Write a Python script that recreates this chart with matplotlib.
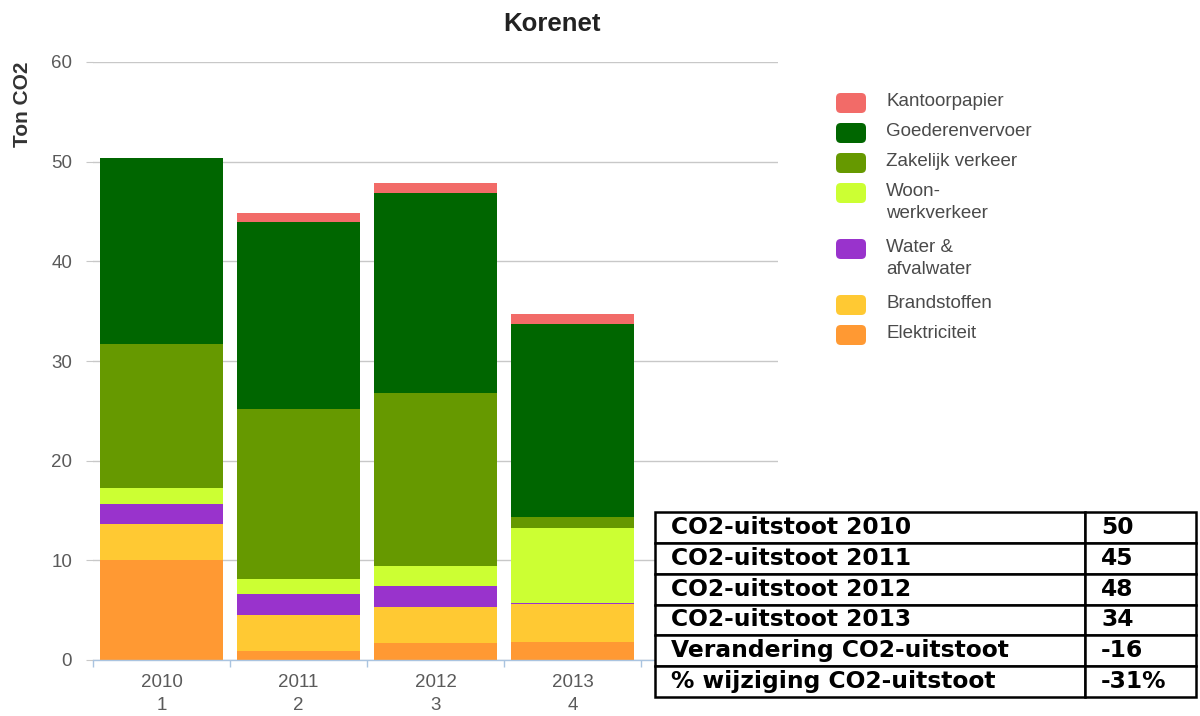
import matplotlib
matplotlib.use("Agg")
import matplotlib.pyplot as plt
from matplotlib.patches import FancyBboxPatch
import numpy as np

# ---------------- data ----------------
years = ["2010", "2011", "2012", "2013"]
index_labels = ["1", "2", "3", "4"]

# stack order bottom -> top
series_names = ["Elektriciteit", "Brandstoffen", "Water &\nafvalwater",
                "Woon-\nwerkverkeer", "Zakelijk verkeer", "Goederenvervoer",
                "Kantoorpapier"]
elektriciteit = [10.0, 0.9, 1.7, 1.85]
brandstoffen = [3.6, 3.6, 3.6, 3.75]
water = [2.1, 2.1, 2.1, 0.12]
woonwerk = [1.6, 1.55, 2.05, 7.5]
zakelijk = [14.45, 17.05, 17.3, 1.1]
goederen = [18.6, 18.7, 20.1, 19.4]
kantoor = [0.0, 0.9, 1.0, 0.95]
series_values = [elektriciteit, brandstoffen, water, woonwerk, zakelijk, goederen, kantoor]
series_colors = ["#ff9933", "#ffc933", "#9933cc", "#ccff33", "#669900", "#006600", "#f26b68"]

table_labels = ["CO2-uitstoot 2010", "CO2-uitstoot 2011", "CO2-uitstoot 2012",
                "CO2-uitstoot 2013", "Verandering CO2-uitstoot", "% wijziging CO2-uitstoot"]
table_values = ["50", "45", "48", "34", "-16", "-31%"]

y_ticks = [0, 10, 20, 30, 40, 50, 60]

# ---------------- figure ----------------
W, H = 1200, 716
fig = plt.figure(figsize=(W / 100, H / 100), dpi=100)
fig.patch.set_facecolor("white")

def fx(px):
    return px / W

def fy(py):
    return 1 - py / H

ax = fig.add_axes([fx(93), fy(660), fx(778) - fx(93), fy(62) - fy(660)])
x = np.arange(len(years))
bottom = np.zeros(len(years))
for vals, col in zip(series_values, series_colors):
    ax.bar(x, vals, bottom=bottom, width=0.9, color=col, linewidth=0, zorder=2)
    bottom += np.array(vals)

ax.set_xlim(-0.5, 4.5)
ax.set_ylim(0, 60)
ax.set_yticks(y_ticks)
ax.set_yticklabels([str(v) for v in y_ticks], fontsize=13.5, color="#5a5a5a",
                   family="Liberation Sans")
ax.yaxis.grid(True, color="#c8c8c8", linewidth=1, zorder=0)
ax.tick_params(axis="y", length=5, color="#c8c8c8", pad=10)
ax.set_xticks(x)
ax.set_xticklabels([f"{a}\n{b}" for a, b in zip(years, index_labels)],
                   fontsize=13.5, color="#5a5a5a", family="Liberation Sans",
                   linespacing=1.45)
ax.tick_params(axis="x", length=0, pad=10)
# minor ticks at band edges
ax.set_xticks(np.arange(-0.5, 5.0, 1.0), minor=True)
ax.tick_params(axis="x", which="minor", length=5, color="#aac4e0", width=1)
for s in ["top", "right", "left"]:
    ax.spines[s].set_visible(False)
ax.spines["bottom"].set_color("#aac4e0")
ax.spines["bottom"].set_linewidth(1)

# title and y label
fig.text(fx(552), fy(24), "Korenet", ha="center", va="center", fontsize=18.5,
         fontweight="bold", family="Liberation Sans", color="#222222")
fig.text(fx(22), fy(104), "Ton CO2", ha="center", va="center", rotation=90,
         fontsize=15, fontweight="bold", family="Liberation Sans", color="#333333")

# legend (top entry = top of stack)
ycur = 103
for name, col in zip(series_names[::-1], series_colors[::-1]):
    patch = FancyBboxPatch((fx(836), fy(ycur + 10)), fx(30), 20 / H,
                           boxstyle="round,pad=0,rounding_size=0.004",
                           transform=fig.transFigure, facecolor=col,
                           edgecolor="none", mutation_aspect=W / H)
    fig.patches.append(patch)
    fig.text(fx(886), fy(ycur - 10.5), name, ha="left", va="top", fontsize=13.5,
             family="Liberation Sans", color="#4a4a4a", linespacing=1.42)
    nlines = name.count("\n") + 1
    ycur += 30 + 26 * (nlines - 1)

# table
tax = fig.add_axes([fx(655), fy(697), fx(1196) - fx(655), fy(512) - fy(697)])
tax.set_axis_off()
tbl = tax.table(cellText=[[a, b] for a, b in zip(table_labels, table_values)],
                colWidths=[430 / 541, 111 / 541], bbox=[0, 0, 1, 1], cellLoc="left")
tbl.auto_set_font_size(False)
for (r, c), cell in tbl.get_celld().items():
    cell.set_linewidth(1.8)
    cell.set_edgecolor("black")
    cell.set_facecolor("white")
    cell.PAD = 16 / 430 if c == 0 else 16 / 111
    t = cell.get_text()
    t.set_fontsize(16.8)
    t.set_fontweight("bold")
    t.set_family("DejaVu Sans")
    t.set_color("black")

fig.savefig("out.png", dpi=100, facecolor="white")
